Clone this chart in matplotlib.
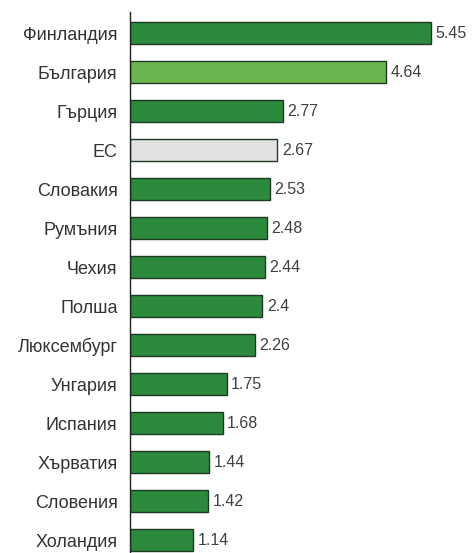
import matplotlib.pyplot as plt

countries = ["Финландия", "България", "Гърция", "ЕС", "Словакия", "Румъния", "Чехия",
             "Полша", "Люксембург", "Унгария", "Испания", "Хърватия", "Словения", "Холандия"]
values = [5.45, 4.64, 2.77, 2.67, 2.53, 2.48, 2.44, 2.4, 2.26, 1.75, 1.68, 1.44, 1.42, 1.14]
labels = ["5.45", "4.64", "2.77", "2.67", "2.53", "2.48", "2.44", "2.4", "2.26",
          "1.75", "1.68", "1.44", "1.42", "1.14"]

dark = "#2b8a3c"
colors = [dark] * len(values)
colors[1] = "#6cb650"   # България
colors[3] = "#e2e2e2"   # ЕС

plt.rcParams['font.family'] = ['Liberation Sans', 'DejaVu Sans']

fig = plt.figure(figsize=(4.76, 5.53), dpi=100)
ax = fig.add_axes([130 / 476, 0, 1 - 130 / 476, 1 - 12 / 553])

y = list(range(len(values)))
ax.barh(y, values, height=0.56, color=colors, edgecolor="#1e3a22", linewidth=1)

for yi, v, t in zip(y, values, labels):
    ax.text(v + 0.08, yi, t, va="center", ha="left", fontsize=11.5, color="#404040")

ax.set_yticks(y)
ax.set_yticklabels(countries, fontsize=13, color="#333333")
ax.tick_params(axis="y", length=0, pad=9)
ax.set_xticks([])
ax.set_xlim(0, 346 / 55.2)
ax.set_ylim(13.33, -0.54)

for s in ["top", "right", "bottom"]:
    ax.spines[s].set_visible(False)
ax.spines["left"].set_color("#222222")
ax.spines["left"].set_linewidth(1)

fig.savefig("out.png", dpi=100)
